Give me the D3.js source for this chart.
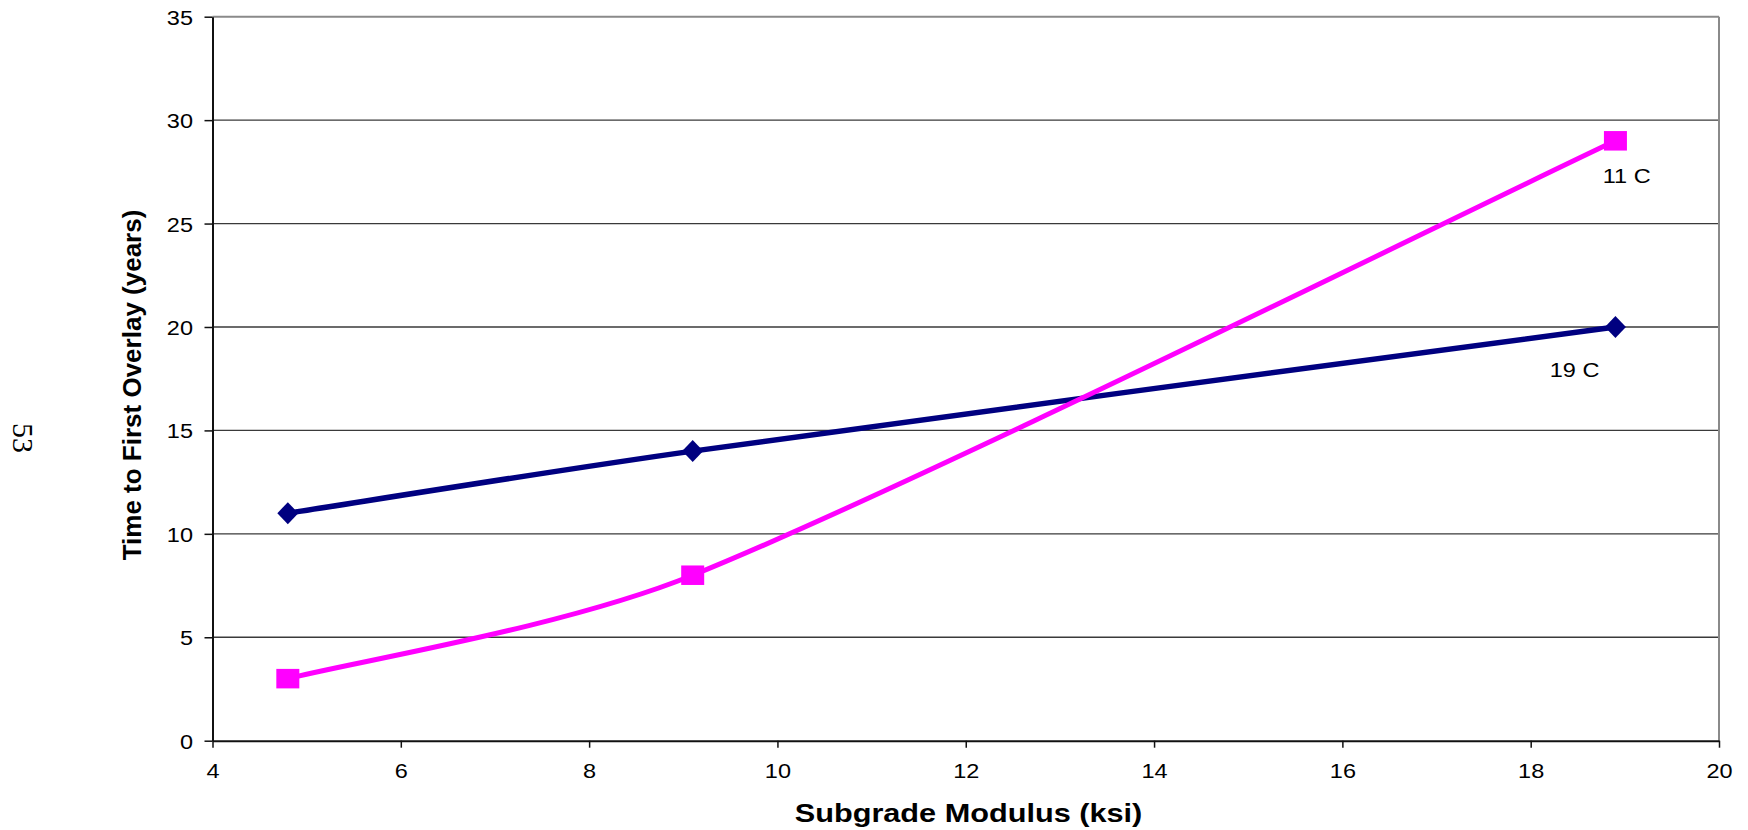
<!DOCTYPE html>
<html>
<head>
<meta charset="utf-8">
<script src="https://cdn.jsdelivr.net/npm/d3@7"></script>
<style>
  html, body { margin: 0; padding: 0; background: #fff; }
  svg { display: block; }
  text { font-family: "Liberation Sans", Arial, sans-serif; fill: #000; }
</style>
</head>
<body>
<svg id="chart" width="1748" height="830"></svg>
<script>
// ---- data ----
const modulus = [4.8, 9.1, 18.9];           // Subgrade Modulus (ksi)
const series19C = [11, 14, 20];              // 19 C
const series11C = [3, 8, 29];                // 11 C
const seriesNames = ["19 C", "11 C"];
const xTicks = [4, 6, 8, 10, 12, 14, 16, 18, 20];
const yTicks = [0, 5, 10, 15, 20, 25, 30, 35];
const xTitle = "Subgrade Modulus (ksi)";
const yTitle = "Time to First Overlay (years)";
const pageNumber = "53";

// ---- layout ----
const plotL = 212.5, plotR = 1719, plotT = 16.7, plotB = 740.7;
const sx = 1.12; // horizontal glyph stretch seen in the reference

const svg = d3.select("#chart");
const x = d3.scaleLinear().domain([4, 20]).range([plotL, plotR]);
const y = d3.scaleLinear().domain([0, 35]).range([plotB, plotT]);

// spreadsheet-like smoothed line: Catmull-Rom tangents, handle length capped by segment length
function SmoothCurve(context) { this._context = context; }
SmoothCurve.prototype = {
  areaStart() {}, areaEnd() {},
  lineStart() { this._pts = []; },
  point(px, py) { this._pts.push([+px, +py]); },
  lineEnd() {
    const p = this._pts, c = this._context, n = p.length;
    if (!n) return;
    c.moveTo(p[0][0], p[0][1]);
    const dist = (a, b) => Math.hypot(b[0] - a[0], b[1] - a[1]);
    for (let i = 0; i < n - 1; i++) {
      const p0 = p[Math.max(0, i - 1)], p1 = p[i], p2 = p[i + 1], p3 = p[Math.min(n - 1, i + 2)];
      const seg = dist(p1, p2);
      let t1 = [(p2[0] - p0[0]) / 6, (p2[1] - p0[1]) / 6];
      let t2 = [(p3[0] - p1[0]) / 6, (p3[1] - p1[1]) / 6];
      const l1 = Math.hypot(t1[0], t1[1]), l2 = Math.hypot(t2[0], t2[1]);
      const cap = seg / 3;
      if (l1 > cap) { t1 = [t1[0] * cap / l1, t1[1] * cap / l1]; }
      if (l2 > cap) { t2 = [t2[0] * cap / l2, t2[1] * cap / l2]; }
      c.bezierCurveTo(p1[0] + t1[0], p1[1] + t1[1], p2[0] - t2[0], p2[1] - t2[1], p2[0], p2[1]);
    }
  }
};
const smooth = context => new SmoothCurve(context);

// gridlines
svg.append("g").selectAll("line")
  .data(yTicks.filter(d => d > 0 && d < 35))
  .join("line")
  .attr("x1", plotL).attr("x2", plotR)
  .attr("y1", d => y(d)).attr("y2", d => y(d))
  .attr("stroke", "#3a3a3a").attr("stroke-width", 1.3);

// plot border top and right (gray)
svg.append("line").attr("x1", plotL).attr("x2", plotR).attr("y1", y(35)).attr("y2", y(35))
  .attr("stroke", "#8a8a8a").attr("stroke-width", 2);
svg.append("line").attr("x1", plotR).attr("x2", plotR).attr("y1", y(35)).attr("y2", plotB)
  .attr("stroke", "#8a8a8a").attr("stroke-width", 2);

// y axis
const yAxis = svg.append("g").attr("transform", `translate(${plotL},0)`)
  .call(d3.axisLeft(y).tickValues(yTicks).tickSize(8).tickSizeOuter(0));
yAxis.select(".domain").attr("stroke", "#111").attr("stroke-width", 2);
yAxis.selectAll(".tick line").attr("stroke", "#111").attr("stroke-width", 1.5);
yAxis.selectAll(".tick text")
  .attr("x", null).attr("dy", "0.36em")
  .attr("transform", `translate(-19.5,0) scale(${sx},1)`)
  .style("font-size", "21px").attr("fill", "#000");

// x axis
const xAxis = svg.append("g").attr("transform", `translate(0,${plotB})`)
  .call(d3.axisBottom(x).tickValues(xTicks).tickSize(7).tickSizeOuter(0));
xAxis.select(".domain").attr("stroke", "#111").attr("stroke-width", 2);
xAxis.selectAll(".tick line").attr("stroke", "#111").attr("stroke-width", 1.5);
xAxis.selectAll(".tick text")
  .attr("y", null).attr("dy", null)
  .attr("transform", `translate(0,37.5) scale(${sx},1)`)
  .style("font-size", "21px").attr("fill", "#000");
svg.selectAll(".tick text").style("font-family", '"Liberation Sans", Arial, sans-serif');

// lines
const line = d3.line().x(d => x(d[0])).y(d => y(d[1])).curve(smooth);
const navyPts = modulus.map((m, i) => [m, series19C[i]]);
const pinkPts = modulus.map((m, i) => [m, series11C[i]]);

svg.append("path").attr("d", line(navyPts)).attr("fill", "none")
  .attr("stroke", "#000080").attr("stroke-width", 5.5).attr("stroke-linejoin", "round");
svg.append("path").attr("d", line(pinkPts)).attr("fill", "none")
  .attr("stroke", "#FF00FF").attr("stroke-width", 5).attr("stroke-linejoin", "round");

// markers
svg.append("g").selectAll("path").data(navyPts).join("path")
  .attr("transform", d => `translate(${x(d[0])},${y(d[1])})`)
  .attr("d", "M0,-11 L10.5,0 L0,11 L-10.5,0 Z")
  .attr("fill", "#000080");
svg.append("g").selectAll("rect").data(pinkPts).join("rect")
  .attr("x", d => x(d[0]) - 11.5).attr("y", d => y(d[1]) - 9.75)
  .attr("width", 23).attr("height", 19.5)
  .attr("fill", "#FF00FF");

// data labels (at last point)
const lastIdx = modulus.length - 1;
svg.append("text")
  .attr("transform", `translate(${x(modulus[lastIdx]) - 65.7},${y(series19C[lastIdx]) + 50}) scale(${sx},1)`)
  .style("font-size", "21px").text(seriesNames[0]);
svg.append("text")
  .attr("transform", `translate(${x(modulus[lastIdx]) - 12.7},${y(series11C[lastIdx]) + 42}) scale(${sx},1)`)
  .style("font-size", "21px").text(seriesNames[1]);

// axis titles
svg.append("text")
  .attr("transform", `translate(968.5,822) scale(1.18,1)`)
  .attr("text-anchor", "middle")
  .style("font-size", "26px").style("font-weight", "bold")
  .text(xTitle);
svg.append("text")
  .attr("transform", `translate(141,385) rotate(-90)`)
  .attr("text-anchor", "middle")
  .style("font-size", "26px").style("font-weight", "bold")
  .text(yTitle);

// page number
svg.append("text")
  .attr("transform", `translate(13,438) rotate(90)`)
  .attr("text-anchor", "middle")
  .style("font-family", '"Liberation Serif", "Times New Roman", serif')
  .style("font-size", "30px").attr("fill", "#222")
  .text(pageNumber);
</script>
</body>
</html>
